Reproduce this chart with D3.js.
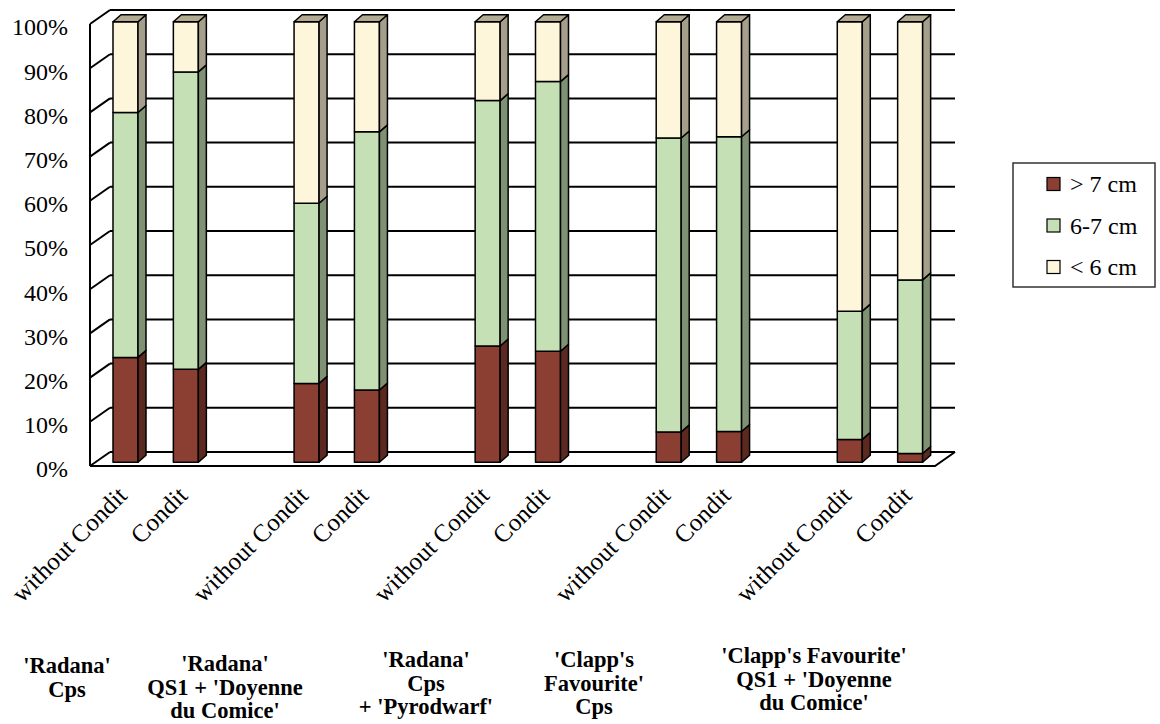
<!DOCTYPE html>
<html>
<head>
<meta charset="utf-8">
<script src="https://cdn.jsdelivr.net/npm/d3@7"></script>
<style>
  html, body { margin: 0; padding: 0; background: #fff; }
  svg { display: block; }
</style>
</head>
<body>
<svg id="chart" width="1160" height="724"></svg>
<script>
// ---------------- DATA ----------------
const groups = [
  ["'Radana'", "Cps"],
  ["'Radana'", "QS1 + 'Doyenne", "du Comice'"],
  ["'Radana'", "Cps", "+ 'Pyrodwarf'"],
  ["'Clapp's", "Favourite'", "Cps"],
  ["'Clapp's Favourite'", "QS1 + 'Doyenne", "du Comice'"]
];
const treatments = ["without Condit", "Condit"];
const seriesNames = ["> 7 cm", "6-7 cm", "< 6 cm"];
// percentages per bar (group order, treatment order)
const over7  = [23.8, 21.1, 17.9, 16.4, 26.4, 25.2, 6.9, 7.0, 5.2, 2.0];
const mid67  = [55.6, 67.5, 40.9, 58.6, 55.7, 61.2, 66.7, 66.9, 29.1, 39.4];
const under6 = [20.6, 11.4, 41.2, 25.0, 17.9, 13.6, 26.4, 26.1, 65.7, 58.6];
const yTicks = [0, 10, 20, 30, 40, 50, 60, 70, 80, 90, 100];

// ---------------- LAYOUT ----------------
const FONT = "Liberation Serif";
const frontColors = ["#8B3E32", "#C4E0B4", "#FEF6DA"];
const sideColors  = ["#5C2920", "#7E9172", "#A59E8A"];
const capColor = "#B2AA91";
const DX = 20;                  // wall depth (x)
const BDX = 8, BDY = -7;        // bar depth
const barW = 25, barOff = 23;

// build slots: two bars per group, blank slot between groups
const slots = [];
const bars = [];
groups.forEach((g, gi) => {
  treatments.forEach((t, ti) => {
    const idx = gi * 2 + ti;
    const key = "b" + idx;
    slots.push(key);
    bars.push({ key, label: t, values: [over7[idx], mid67[idx], under6[idx]] });
  });
  if (gi < groups.length - 1) slots.push("gap" + gi);
});

const svg = d3.select("#chart");
const x = d3.scaleBand().domain(slots).range([90, 935]).padding(0);
const yFront = d3.scaleLinear().domain([0, 100]).range([466, 24]);
const yBack  = d3.scaleLinear().domain([0, 100]).range([452, 10]);
const yBar   = d3.scaleLinear().domain([0, 100]).range([462.3, 21.7]);

const xL = 90, xR = 935;

// walls & gridlines
const wall = svg.append("g").attr("stroke", "#000").attr("stroke-width", 2).attr("fill", "none");
wall.selectAll("line.grid").data(yTicks).join("line")
  .attr("x1", xL + DX).attr("x2", xR + DX)
  .attr("y1", d => yBack(d)).attr("y2", d => yBack(d));
wall.selectAll("line.diag").data(yTicks).join("line")
  .attr("x1", xL).attr("y1", d => yFront(d))
  .attr("x2", xL + DX).attr("y2", d => yBack(d));
wall.append("line").attr("x1", xL).attr("x2", xL).attr("y1", yFront(100)).attr("y2", yFront(0));
wall.append("path").attr("d", `M${xL},${yFront(0)}L${xR},${yFront(0)}L${xR + DX},${yBack(0)}`);

// y tick labels
svg.append("g").selectAll("text").data(yTicks).join("text")
  .attr("font-family", FONT)
  .attr("x", 68).attr("y", d => yFront(d) + 3)
  .attr("dy", "0.35em")
  .attr("text-anchor", "end")
  .attr("font-size", 24)
  .text(d => d + "%");

// bars
const barG = svg.append("g").attr("stroke", "#000").attr("stroke-width", 1.5).attr("stroke-linejoin", "round");
bars.forEach(b => {
  const x0 = x(b.key) + barOff, x1 = x0 + barW;
  let cum = 0;
  const segs = b.values.map((v, i) => {
    const s = { i, y0: cum, y1: cum + v };
    cum += v;
    return s;
  });
  const g = barG.append("g");
  segs.forEach(s => {
    const yt = yBar(s.y1), yb = yBar(s.y0);
    g.append("rect").attr("x", x0).attr("y", yt).attr("width", barW).attr("height", yb - yt)
      .attr("fill", frontColors[s.i]);
    g.append("path")
      .attr("d", `M${x1},${yb}L${x1},${yt}L${x1 + BDX},${yt + BDY}L${x1 + BDX},${yb + BDY}Z`)
      .attr("fill", sideColors[s.i]);
  });
  const top = yBar(cum);
  g.append("path")
    .attr("d", `M${x0},${top}L${x0 + BDX},${top + BDY}L${x1 + BDX},${top + BDY}L${x1},${top}Z`)
    .attr("fill", capColor);
});

// x labels (rotated)
svg.append("g").selectAll("text").data(bars).join("text")
  .attr("font-family", FONT)
  .attr("transform", d => `translate(${x(d.key) + barOff + barW / 2 + 3},497) rotate(-45)`)
  .attr("text-anchor", "end")
  .attr("font-size", 25)
  .text(d => d.label);

// group labels
const groupCx = [67, 225, 426, 594, 814];
const groupY0 = [673, 671, 667, 667, 663];
const gl = svg.append("g");
groups.forEach((lines, gi) => {
  const t = gl.append("text")
    .attr("font-family", FONT)
    .attr("text-anchor", "middle")
    .attr("font-size", 22.5)
    .attr("font-weight", "bold");
  lines.forEach((ln, li) => {
    t.append("tspan").attr("x", groupCx[gi]).attr("y", groupY0[gi] + li * 23.5).text(ln);
  });
});

// legend
const lg = svg.append("g");
lg.append("rect").attr("x", 1013).attr("y", 163).attr("width", 142).attr("height", 124)
  .attr("fill", "#fff").attr("stroke", "#333").attr("stroke-width", 1.5);
seriesNames.forEach((n, i) => {
  const cy = 184 + i * 41.5;
  lg.append("rect").attr("x", 1047).attr("y", cy - 6.5).attr("width", 13).attr("height", 13)
    .attr("fill", frontColors[i]).attr("stroke", "#000").attr("stroke-width", 1.2);
  lg.append("text").attr("font-family", FONT).attr("x", 1070).attr("y", cy).attr("dy", "0.35em")
    .attr("font-size", 24).text(n);
});
</script>
</body>
</html>
